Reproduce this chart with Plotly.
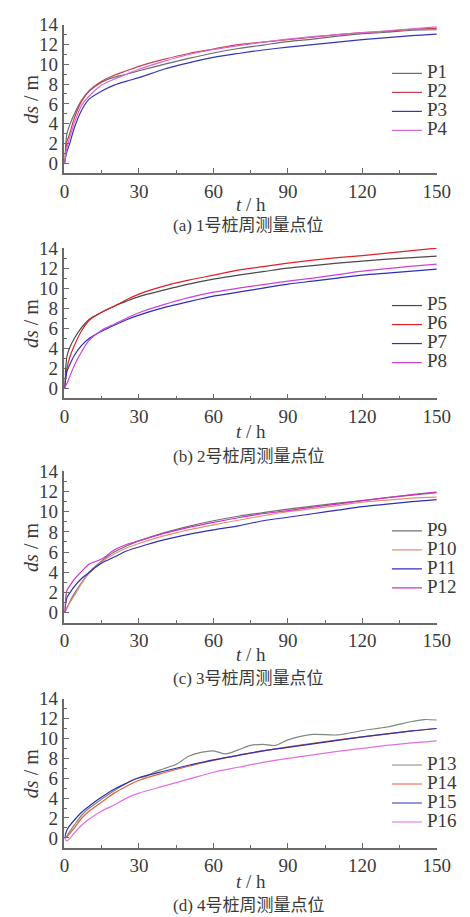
import plotly.graph_objects as go

# ---------------- data ----------------
t = [0, 1, 2, 4, 7, 10, 15, 20, 25, 30, 40, 50, 60, 70, 80, 90, 100, 110, 120, 130, 140, 150]

# (a) pile 1
p1 = [0, 3.0, 3.8, 5.0, 6.4, 7.3, 8.2, 8.7, 9.0, 9.35, 10.0, 10.6, 11.15, 11.6, 11.95, 12.3, 12.55, 12.85, 13.1, 13.25, 13.45, 13.5]
p2 = [0, 2.2, 2.9, 4.6, 6.3, 7.35, 8.3, 8.9, 9.35, 9.8, 10.5, 11.1, 11.55, 12.0, 12.25, 12.5, 12.75, 13.0, 13.2, 13.35, 13.55, 13.65]
p3 = [0, 1.2, 1.9, 3.6, 5.4, 6.5, 7.3, 7.9, 8.3, 8.65, 9.5, 10.15, 10.7, 11.1, 11.45, 11.75, 12.0, 12.25, 12.5, 12.7, 12.9, 13.05]
p4 = [0, 1.6, 2.5, 4.1, 5.9, 6.8, 7.9, 8.5, 9.0, 9.5, 10.3, 11.0, 11.5, 11.9, 12.25, 12.55, 12.8, 13.0, 13.2, 13.4, 13.6, 13.8]

# (b) pile 2
p5 = [0, 3.2, 4.0, 5.0, 6.1, 6.9, 7.6, 8.2, 8.7, 9.15, 9.8, 10.4, 10.9, 11.3, 11.65, 12.0, 12.25, 12.5, 12.7, 12.9, 13.05, 13.2]
p6 = [0, 2.0, 3.0, 4.3, 5.8, 6.8, 7.6, 8.2, 8.85, 9.4, 10.2, 10.8, 11.3, 11.8, 12.15, 12.5, 12.8, 13.05, 13.25, 13.5, 13.75, 14.0]
p7 = [0, 1.7, 2.3, 3.3, 4.3, 5.0, 5.7, 6.3, 6.85, 7.3, 8.05, 8.65, 9.2, 9.6, 10.0, 10.4, 10.7, 11.0, 11.3, 11.5, 11.7, 11.9]
p8 = [0, 0.5, 1.1, 2.3, 3.7, 4.8, 5.8, 6.4, 7.0, 7.55, 8.35, 9.05, 9.6, 10.0, 10.35, 10.7, 11.0, 11.35, 11.7, 11.95, 12.2, 12.4]

# (c) pile 3
p9 = [0, 0.5, 1.0, 1.9, 3.0, 4.0, 5.1, 6.0, 6.6, 7.1, 7.9, 8.55, 9.1, 9.55, 9.9, 10.25, 10.55, 10.85, 11.1, 11.4, 11.65, 11.9]
p10 = [0, 0.4, 0.9, 1.7, 2.9, 3.9, 5.0, 5.8, 6.4, 6.85, 7.6, 8.2, 8.7, 9.15, 9.6, 10.0, 10.3, 10.6, 10.95, 11.15, 11.35, 11.45]
p11 = [0, 1.5, 1.9, 2.6, 3.4, 4.0, 4.9, 5.5, 6.1, 6.5, 7.2, 7.75, 8.2, 8.6, 9.1, 9.45, 9.8, 10.15, 10.5, 10.75, 11.0, 11.2]
p12 = [0, 2.2, 2.6, 3.3, 4.1, 4.8, 5.3, 6.2, 6.75, 7.1, 7.85, 8.45, 8.95, 9.4, 9.8, 10.1, 10.45, 10.75, 11.1, 11.4, 11.7, 11.95]

# (d) pile 4
t_p13 = [0, 1, 2, 4, 7, 10, 15, 20, 25, 28, 30, 33, 36, 40, 45, 50, 55, 60, 65, 70, 75, 80, 85, 90, 100, 110, 120, 130, 140, 145, 150]
p13 = [0, 0.2, 0.6, 1.3, 2.3, 3.0, 3.9, 4.75, 5.5, 5.9, 6.05, 6.2, 6.6, 6.95, 7.4, 8.2, 8.6, 8.75, 8.45, 8.85, 9.3, 9.4, 9.3, 9.85, 10.4, 10.35, 10.8, 11.15, 11.7, 11.9, 11.85]
p14 = [0, 0.1, 0.4, 1.0, 2.0, 2.7, 3.6, 4.5, 5.2, 5.8, 6.55, 7.2, 7.8, 8.3, 8.75, 9.15, 9.5, 9.85, 10.15, 10.45, 10.75, 11.0]
p15 = [0, 0.8, 1.2, 1.8, 2.6, 3.2, 4.1, 4.9, 5.5, 6.05, 6.7, 7.3, 7.85, 8.3, 8.75, 9.1, 9.45, 9.8, 10.15, 10.45, 10.75, 11.0]
p16 = [0, -0.3, -0.1, 0.5, 1.3, 1.9, 2.7, 3.3, 4.0, 4.5, 5.2, 5.9, 6.6, 7.1, 7.6, 8.0, 8.35, 8.7, 9.0, 9.3, 9.55, 9.75]

names = [["P1", "P2", "P3", "P4"], ["P5", "P6", "P7", "P8"],
         ["P9", "P10", "P11", "P12"], ["P13", "P14", "P15", "P16"]]
captions = ["(a) 1号桩周测量点位", "(b) 2号桩周测量点位",
            "(c) 3号桩周测量点位", "(d) 4号桩周测量点位"]
x_ticks = [0, 30, 60, 90, 120, 150]
y_ticks = [0, 2, 4, 6, 8, 10, 12, 14]

# ---------------- styling / layout ----------------
W, H = 470, 917
FONT = "'Times New Roman', 'Liberation Serif', 'Noto Sans CJK SC', serif"
TXT = "#3a3a3a"
AX = "#6a6a6a"

def py(p):
    return 1 - p / H

def px(p):
    return p / W

panel_geo = [
    dict(top=15, bottom=165, leg=93, xt=197, cap=218),
    dict(top=241, bottom=393, leg=328, xt=427, cap=452),
    dict(top=467, bottom=620, leg=556, xt=652, cap=677),
    dict(top=697, bottom=848, leg=793, xt=882, cap=906),
]
colors = [
    ["#6b6b6b", "#c8404e", "#3535b8", "#d866d8"],
    ["#4a4a4a", "#e0202a", "#2e2eb8", "#d040d8"],
    ["#707070", "#e49078", "#2e2eb8", "#d030c8"],
    ["#7d8a7d", "#e0603a", "#3030b0", "#e070e0"],
]
series = [
    [(t, p1), (t, p2), (t, p3), (t, p4)],
    [(t, p5), (t, p6), (t, p7), (t, p8)],
    [(t, p9), (t, p10), (t, p11), (t, p12)],
    [(t_p13, p13), (t, p14), (t, p15), (t, p16)],
]

fig = go.Figure()
annotations = []
layout = dict(
    width=W, height=H,
    margin=dict(l=0, r=0, t=0, b=0),
    paper_bgcolor="white", plot_bgcolor="white",
    font=dict(family=FONT, size=18, color=TXT),
)

for i in range(4):
    g = panel_geo[i]
    k = "" if i == 0 else str(i + 1)
    leg = "legend" if i == 0 else "legend" + str(i + 1)
    for j in range(4):
        xs, ys = series[i][j]
        fig.add_trace(go.Scatter(
            x=xs, y=ys, mode="lines",
            name='<span style="font-size:19px">' + names[i][j] + "</span>",
            line=dict(color=colors[i][j], width=1.2, shape="spline", smoothing=0.8),
            xaxis="x" + k, yaxis="y" + k, legend=leg,
        ))
    layout["xaxis" + k] = dict(
        domain=[px(62), px(450)], range=[0, 150], anchor="y" + k,
        tickvals=x_ticks, ticks="inside", ticklen=5, tickwidth=1.2, tickcolor=AX,
        minor=dict(dtick=15, tick0=0, ticks="inside", ticklen=3, tickcolor=AX),
        showline=True, linecolor=AX, linewidth=1.5, showgrid=False, zeroline=False,
        tickfont=dict(family=FONT, size=19, color=TXT),
    )
    layout["yaxis" + k] = dict(
        domain=[py(g["bottom"]), py(g["top"])], range=[-1, 14], anchor="x" + k,
        tickvals=y_ticks, ticks="inside", ticklen=5, tickwidth=1.2, tickcolor=AX,
        minor=dict(dtick=1, tick0=0, ticks="inside", ticklen=3, tickcolor=AX),
        showline=True, linecolor=AX, linewidth=1.5, showgrid=False, zeroline=False,
        tickfont=dict(family=FONT, size=19, color=TXT), ticklabelstandoff=1,
    )
    layout[leg] = dict(
        x=px(398), xanchor="left", y=py(g["leg"]), yanchor="middle",
        bgcolor="rgba(0,0,0,0)", borderwidth=0,
        font=dict(family=FONT, size=12, color=TXT),
    )
    annotations.append(dict(
        text="<i>ds</i> / m", x=px(27), y=py((g["top"] + g["bottom"]) / 2),
        xref="paper", yref="paper", showarrow=False, textangle=-90,
        font=dict(family=FONT, size=20, color=TXT), xanchor="center", yanchor="middle",
    ))
    annotations.append(dict(
        text="<i>t</i> / h", x=px(256), y=py(g["xt"]),
        xref="paper", yref="paper", showarrow=False,
        font=dict(family=FONT, size=19, color=TXT), xanchor="center", yanchor="middle",
    ))
    annotations.append(dict(
        text=captions[i], x=px(254), y=py(g["cap"]),
        xref="paper", yref="paper", showarrow=False,
        font=dict(family=FONT, size=17, color=TXT), xanchor="center", yanchor="middle",
    ))

layout["annotations"] = annotations
fig.update_layout(**layout)
fig.write_html("out.html")
